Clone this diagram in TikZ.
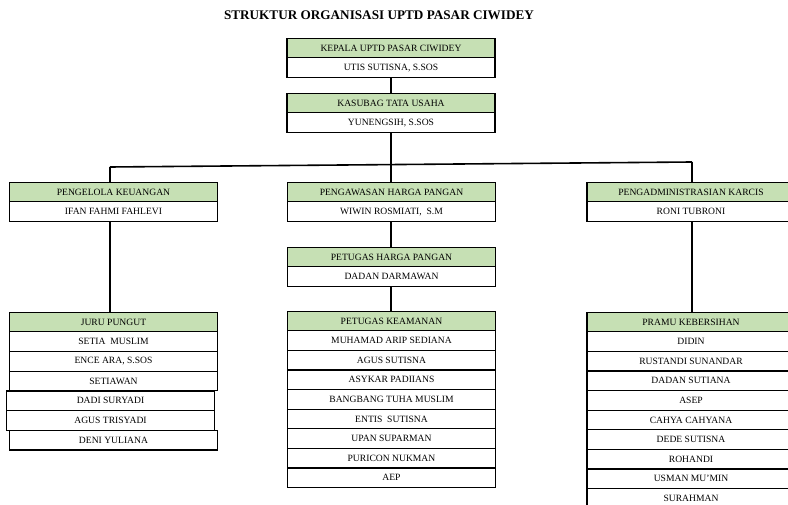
\documentclass[tikz,border=0pt]{standalone}
\usepackage{fontspec}
\setmainfont{Liberation Serif}
\usetikzlibrary{positioning}
\definecolor{hijau}{RGB}{198,224,180}

\begin{document}
\begin{tikzpicture}[x=1pt,y=-1pt,
		boxnode/.style={rectangle,draw,line width=1.1pt,outer sep=0pt,inner sep=0pt,minimum width=208pt,minimum height=19.6pt,font=\fontsize{9.6}{11}\selectfont},
		headnode/.style={boxnode,fill=hijau},
		link/.style={line width=1.8pt}]
	\useasboundingbox (0,0) rectangle (788,505);
	\clip (0,0) rectangle (788,505);
	\node [font=\fontsize{13.2}{15}\selectfont\bfseries] (judul) at (379, 15) {STRUKTUR ORGANISASI UPTD PASAR CIWIDEY};
	% pimpinan
	\node [headnode] (kepala) at (391, 48) {KEPALA UPTD PASAR CIWIDEY};
	\node [boxnode, below=0pt of kepala] (utis) {UTIS SUTISNA, S.SOS};
	\node [headnode] (kasubag) at (391, 103) {KASUBAG TATA USAHA};
	\node [boxnode, below=0pt of kasubag] (yun) {YUNENGSIH, S.SOS};
	% bidang
	\node [headnode] (keu) at (113.5, 192) {PENGELOLA KEUANGAN};
	\node [boxnode, below=0pt of keu] (ifan) {IFAN FAHMI FAHLEVI};
	\node [headnode] (awas) at (391.5, 192) {PENGAWASAN HARGA PANGAN};
	\node [boxnode, below=0pt of awas] (wiwin) {WIWIN ROSMIATI,\ \ S.M};
	\node [headnode] (karcis) at (691, 192) {PENGADMINISTRASIAN KARCIS};
	\node [boxnode, below=0pt of karcis] (roni) {RONI TUBRONI};
	\node [headnode] (harga) at (391.5, 257) {PETUGAS HARGA PANGAN};
	\node [boxnode, below=0pt of harga] (dadan) {DADAN DARMAWAN};
	% petugas
	\node [headnode] (juru) at (113.5, 322) {JURU PUNGUT};
	\node [headnode] (aman) at (391.5, 321) {PETUGAS KEAMANAN};
	\node [headnode] (pramu) at (691, 322) {PRAMU KEBERSIHAN};
	\foreach \nama/\dx [count=\i] in {SETIA\ \ MUSLIM/0, {ENCE ARA, S.SOS}/0, SETIAWAN/0, DADI SURYADI/-3, AGUS TRISYADI/-3, DENI YULIANA/0}
		\node [boxnode] (juru-\i) at (113.5+\dx, 322+19.7*\i) {\nama};
	\foreach \nama [count=\i] in {MUHAMAD ARIP SEDIANA, AGUS SUTISNA, ASYKAR PADIIANS, BANGBANG TUHA MUSLIM, ENTIS\ \ SUTISNA, UPAN SUPARMAN, PURICON NUKMAN, AEP}
		\node [boxnode] (aman-\i) at (391.5, 321+19.6*\i) {\nama};
	\foreach \nama [count=\i] in {DIDIN, RUSTANDI SUNANDAR, DADAN SUTIANA, ASEP, CAHYA CAHYANA, DEDE SUTISNA, ROHANDI, USMAN MU'MIN, SURAHMAN}
		\node [boxnode] (pramu-\i) at (691, 322+19.6*\i) {\nama};
	% garis
	\coordinate (busL) at (110, 167);
	\coordinate (busM) at (391, 164.6);
	\coordinate (busR) at (692, 162);
	\draw [link] (utis) -- (kasubag);
	\draw [link] (yun) -- (busM);
	\draw [link, line width=1.6pt] (busL) -- (busR);
	\draw [link] (busL) -- (busL |- keu.north);
	\draw [link] (busM) -- (busM |- awas.north);
	\draw [link] (busR) -- (busR |- karcis.north);
	\draw [link] (ifan.south -| busL) -- (juru.north -| busL);
	\draw [link] (wiwin.south -| busM) -- (harga.north -| busM);
	\draw [link] (dadan.south -| busM) -- (aman.north -| busM);
	\draw [link] (roni.south -| busR) -- (pramu.north -| busR);
\end{tikzpicture}
\end{document}
